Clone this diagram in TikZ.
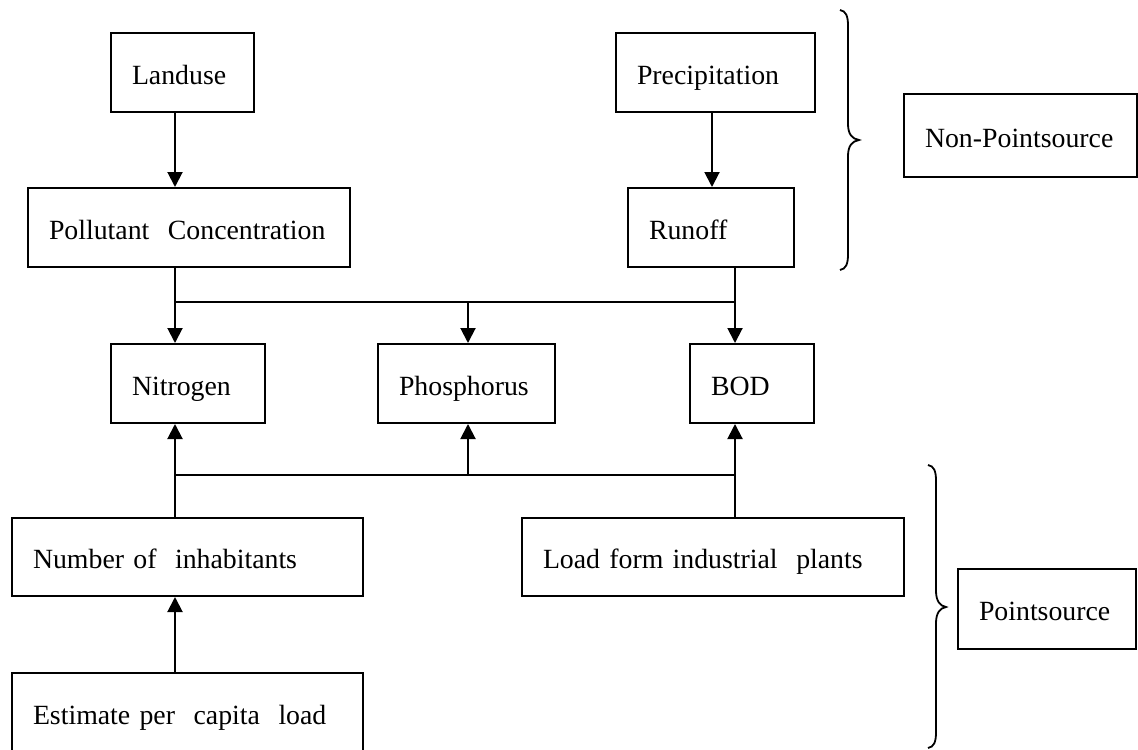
\documentclass[tikz,border=0pt]{standalone}
\usepackage{fontspec}
\setmainfont{Liberation Serif}
\usetikzlibrary{arrows.meta}
\begin{document}
\begin{tikzpicture}[x=0.5pt,y=-0.5pt,
  bx/.style 2 args={draw, line width=1pt, anchor=north west, inner sep=0pt,
    minimum width=#1*0.5pt, minimum height=#2*0.5pt, text width=#1*0.5pt,
    align=left, text height=15pt, text depth=3.5pt,
    font=\fontsize{13.9pt}{16pt}\selectfont,
    execute at begin node={\hspace*{10.5pt}}},
  arr/.style={line width=1pt, -{Triangle[width=7.5pt,length=7.5pt]}},
  ln/.style={line width=0.9pt},
  brc/.style={line width=0.9pt}]
\useasboundingbox (0,0) rectangle (1138,749);
\fill[white] (0,0) rectangle (1138,749);
\clip (0,0) rectangle (1138,749);

% column and row helpers
\coordinate (colA) at (175,0);
\coordinate (colB) at (468,0);
\coordinate (colC) at (735,0);
\coordinate (colP) at (712,0);
\coordinate (jt) at (0,302);
\coordinate (jb) at (0,475);

% boxes
\node[bx={143}{79}] (landuse) at (110,32) {Landuse};
\node[bx={199}{79}] (precip) at (615,32) {Precipitation};
\node[bx={322}{79}] (pollut) at (27,187) {Pollutant\ \ Concentration};
\node[bx={166}{79}] (runoff) at (627,187) {Runoff};
\node[bx={154}{79}] (nitro) at (110,343) {Nitrogen};
\node[bx={177}{79}] (phosph) at (377,343) {Phosphorus};
\node[bx={124}{79}] (bod) at (689,343) {BOD};
\node[bx={351}{78}] (number) at (11,517) {Number of\ \ inhabitants};
\node[bx={382}{78}] (load) at (521,517) {Load form industrial\ \ plants};
\node[bx={351}{80}] (estimate) at (11,672) {Estimate per\ \ capita\ \ load};
\node[bx={233}{83}] (nonpoint) at (903,93) {Non-Pointsource};
\node[bx={178}{80}] (point) at (957,568) {Pointsource};

% connectors
\draw[arr] (landuse.south -| colA) -- (pollut.north -| colA);
\draw[arr] (precip.south -| colP) -- (runoff.north -| colP);

\draw[arr] (pollut.south -| colA) -- (nitro.north -| colA);
\draw[arr] (runoff.south -| colC) -- (bod.north -| colC);
\draw[ln] (jt -| colA) -- (jt -| colC);
\draw[arr] (jt -| colB) -- (phosph.north -| colB);

\draw[arr] (number.north -| colA) -- (nitro.south -| colA);
\draw[arr] (load.north -| colC) -- (bod.south -| colC);
\draw[ln] (jb -| colA) -- (jb -| colC);
\draw[arr] (jb -| colB) -- (phosph.south -| colB);

\draw[arr] (estimate.north -| colA) -- (number.south -| colA);

% braces
\draw[brc] (840,10) .. controls (846,11) and (848,16) .. (848,26) -- (848,124)
  .. controls (848,134) and (852,139) .. (859,140)
  .. controls (852,141) and (848,146) .. (848,156) -- (848,254)
  .. controls (848,264) and (846,269) .. (840,270);
\draw[brc] (928,465) .. controls (934,466) and (936,471) .. (936,481) -- (936,591)
  .. controls (936,601) and (940,606) .. (946,607)
  .. controls (940,608) and (936,613) .. (936,623) -- (936,732)
  .. controls (936,742) and (934,747) .. (928,748);
\end{tikzpicture}
\end{document}
